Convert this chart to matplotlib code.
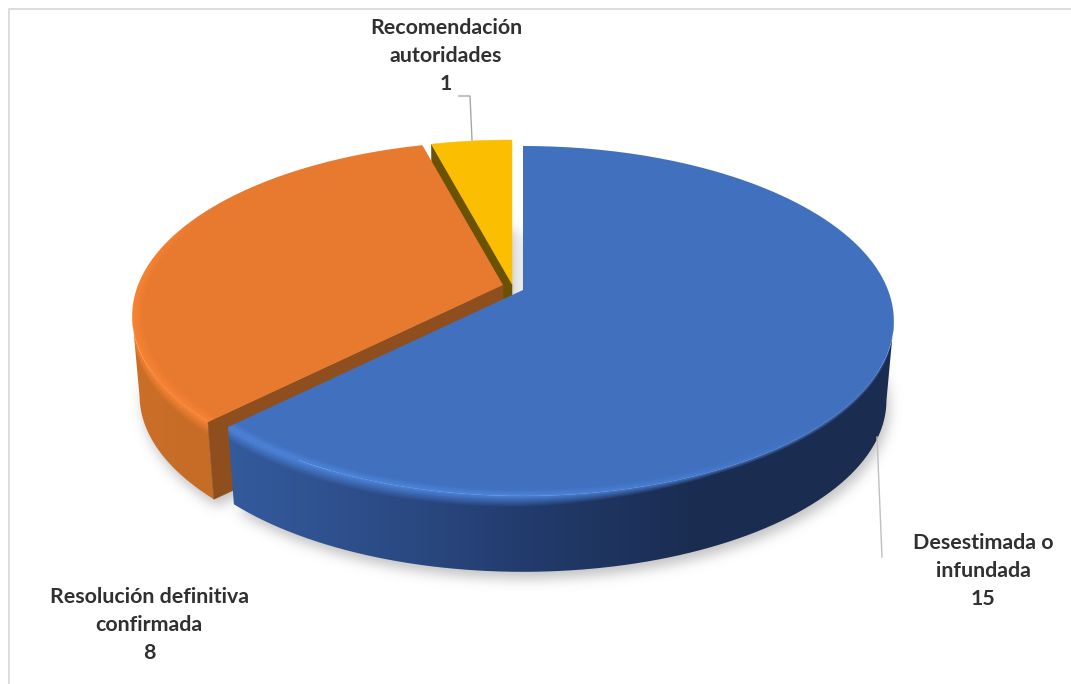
import numpy as np
import matplotlib
matplotlib.use("Agg")
import matplotlib.pyplot as plt
from matplotlib.path import Path
from matplotlib.colors import to_rgb

categories = ["Desestimada o\ninfundada", "Resolución definitiva\nconfirmada", "Recomendación\nautoridades"]
values = [15, 8, 1]
top_colors = ["#4070BE", "#E87A30", "#FBBE00"]
rim_colors = ["#4C84DC", "#F98434", "#FBBE00"]
face_colors = ["#1F3864", "#8F4E1D", "#6B5200"]

W, H = 1071, 684
fig = plt.figure(figsize=(W / 100, H / 100), dpi=100, facecolor="white")
ax = fig.add_axes([0, 0, 1, 1])
ax.axis("off")

# pie geometry (perspective disc)
A, B, K, DEPTH, SHRINK = 365.0, 169.5, 0.177, 80.0, 0.98
apexes = [(523, 290), (503, 285), (512, 284)]
# angles where the disc outline is vertical: the wall's silhouette starts there
T_RIGHT = np.degrees(np.arccos(-K))
T_LEFT = 360 - T_RIGHT

yy, xx = np.mgrid[0:H, 0:W]
xc, yc = xx + 0.5, yy + 0.5
EXTENT = (0, W, H, 0)


def proj(theta, apex, r=1.0, z=0.0):
    th = np.radians(np.asarray(theta, dtype=float))
    X, Y = r * np.sin(th), -r * np.cos(th)
    w = 1 - K * Y
    s = 1 - (1 - SHRINK) * z / DEPTH
    return apex[0] + s * A * X / w, apex[1] + s * B * Y / w + z


def wedge_poly(t0, t1, apex, z=0.0):
    t = np.linspace(t0, t1, 240)
    x, y = proj(t, apex, 1.0, z)
    return np.column_stack([np.r_[apex[0], x, apex[0]], np.r_[apex[1] + z, y, apex[1] + z]])


def rgb(c):
    return np.array(to_rgb(c))


def show_clipped(img, poly, z):
    im = ax.imshow(img, extent=EXTENT, aspect="auto", interpolation="nearest", zorder=z)
    im.set_clip_path(Path(poly), transform=ax.transData)


def top_face(t0, t1, apex, top, rim, fade, z):
    """Flat top with a bright bevel that follows the outer edge."""
    dy = yc - apex[1]
    Y = dy / (B + K * dy)
    X = (xc - apex[0]) * (1 - K * Y) / A
    r = np.hypot(X, Y)
    ang = np.degrees(np.arctan2(X, -Y)) % 360
    f = np.clip((r - 0.972) / 0.028, 0, 1) * fade(ang)
    img = rgb(top)[None, None, :] * (1 - f[..., None]) + rgb(rim)[None, None, :] * f[..., None]
    show_clipped(img, wedge_poly(t0, t1, apex), z)


def wall(t0, t1, apex, top, rim, xs, cols, rim_x, rim_v, z):
    """Curved outer wall; colour runs with x and starts bright under the bevel."""
    t = np.linspace(min(t0, t1), max(t0, t1), 400)
    xa, ya = proj(t, apex)
    xb, yb = proj(t, apex, 1.0, DEPTH)
    poly = np.column_stack([np.r_[xa, xb[::-1]], np.r_[ya, yb[::-1]]])
    order = np.argsort(xa)
    ytop = np.interp(xc, xa[order], ya[order])
    side = np.stack([np.interp(xc, xs, [rgb(c)[i] for c in cols]) for i in range(3)], axis=-1)
    rf = np.interp(xc, rim_x, rim_v)
    edge = rgb(top) * (1 - rf[..., None]) + rgb(rim) * rf[..., None]
    g = np.clip((yc - ytop) / (4 + 9 * rf), 0, 1)[..., None]
    show_clipped(edge * (1 - g) + side * g, poly, z)


def cut_face(theta, apex, color, z):
    x0, y0 = proj(theta, apex)
    x1, y1 = proj(theta, apex, 1.0, DEPTH)
    xa, ya = proj(0.0, apex, 0.0)
    xb, yb = proj(0.0, apex, 0.0, DEPTH)
    ax.fill([xa, x0, x1, xb], [ya, y0, y1, yb], color=color, lw=0.4, zorder=z)


edges = np.r_[0, np.cumsum(values)] / np.sum(values) * 360
spans = list(zip(edges[:-1], edges[1:]))

# soft shadow computed from the wedge footprints
pts = np.column_stack([xc.ravel(), yc.ravel()])
mask = np.zeros(H * W, dtype=bool)
for (t0, t1), apex in zip(spans, apexes):
    mask |= Path(wedge_poly(t0, t1, apex, DEPTH) + np.array([3, 7])).contains_points(pts)
mask = mask.reshape(H, W).astype(float)
sigma = 6.0
fy = np.fft.fftfreq(H)[:, None]
fx = np.fft.rfftfreq(W)[None, :]
blur = np.fft.irfft2(np.fft.rfft2(mask) * np.exp(-2 * (np.pi * sigma) ** 2 * (fx ** 2 + fy ** 2)), s=(H, W))
rgba = np.zeros((H, W, 4))
rgba[..., :3] = 0.45
rgba[..., 3] = np.clip(blur, 0, 1) * 0.42
ax.imshow(rgba, extent=EXTENT, zorder=1, aspect="auto", interpolation="bilinear")

# yellow slice (rear)
(t0, t1), apex = spans[2], apexes[2]
cut_face(t0, apex, face_colors[2], 2)
ax.add_patch(plt.Polygon(wedge_poly(t0, t1, apex), color=top_colors[2], lw=0.3, zorder=3))

# orange slice
(t0, t1), apex = spans[1], apexes[1]
wall(t0, T_LEFT, apex, top_colors[1], rim_colors[1], [135, 215], ["#CB6E27", "#C56C28"], [130, 220], [1, 1], 4)
cut_face(t0, apex, face_colors[1], 5)
top_face(t0, t1, apex, top_colors[1], rim_colors[1], lambda a: np.clip((300 - a) / 25, 0, 1), 6)

# blue slice (front)
(t0, t1), apex = spans[0], apexes[0]
wall(T_RIGHT, t1, apex, top_colors[0], rim_colors[0], [235, 400, 520, 700],
     ["#345A9C", "#2B4A84", "#233C6E", "#1A2C50"], [300, 520, 720], [1, 0.8, 0], 7)
top_face(t0, t1, apex, top_colors[0], rim_colors[0], lambda a: np.clip((a - 130) / 50, 0, 1), 8)

# leader lines
ax.plot([877, 882], [437, 557], color="#BFBFBF", lw=1, zorder=9)
ax.plot([472, 470, 459], [140, 96, 96], color="#A6A6A6", lw=1, zorder=9)

# labels
label_pos = [(983, 571), (149, 625), (446, 56)]
for name, val, (x, y) in zip(categories, values, label_pos):
    ax.text(x, y, f"{name}\n{val}", ha="center", va="center", family="Lato",
            fontweight="bold", fontsize=15.4, color="#303030", linespacing=1.5, zorder=10)

# frame
ax.plot([8.5, 8.5, W], [H, 8.5, 8.5], color="#DDDDDD", lw=1.4, zorder=0.5)

ax.set_xlim(0, W)
ax.set_ylim(H, 0)
fig.savefig("out.png", dpi=100)
